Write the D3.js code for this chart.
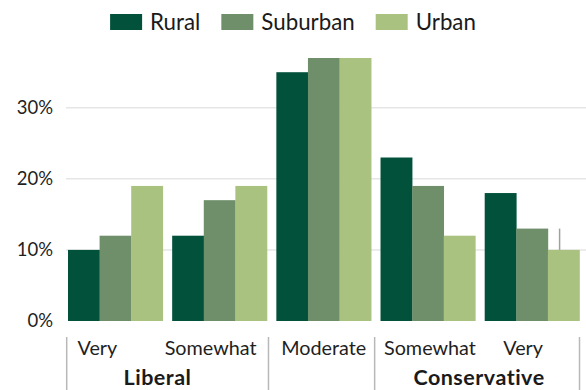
<!DOCTYPE html>
<html>
<head>
<meta charset="utf-8">
<script src="https://cdn.jsdelivr.net/npm/d3@7"></script>
<style>
  html, body { margin: 0; padding: 0; background: #fff; }
  svg { display: block; font-family: Lato, "Open Sans", sans-serif; }
</style>
</head>
<body>
<svg id="chart" width="586" height="390"></svg>
<script>
// ---- data ----
const categories = ["Very (Liberal)", "Somewhat (Liberal)", "Moderate", "Somewhat (Conservative)", "Very (Conservative)"];
const categoryLabels = ["Very", "Somewhat", "Moderate", "Somewhat", "Very"];
const seriesNames = ["Rural", "Suburban", "Urban"];
const rural    = [10, 12, 35, 23, 18];
const suburban = [12, 17, 37, 19, 13];
const urban    = [19, 19, 37, 12, 10];
const yTicks = [0, 10, 20, 30];
const yTickLabels = ["0%", "10%", "20%", "30%"];
const groups = [
  { name: "Liberal", from: 0, to: 1 },
  { name: "", from: 2, to: 2 },
  { name: "Conservative", from: 3, to: 4 }
];
const colors = ["#02513a", "#6f8f6a", "#a9c27f"];

const seriesValues = [rural, suburban, urban];
const rows = categories.map((c, i) => ({
  cat: c, values: seriesNames.map((s, j) => ({ series: s, value: seriesValues[j][i] }))
}));

const svg = d3.select("#chart");
const W = 586, H = 390;

const x = d3.scaleBand().domain(categories).range([68, 579.5]).paddingInner(0.09).paddingOuter(0);
const x1 = d3.scaleBand().domain(seriesNames).range([0, x.bandwidth()]).padding(0);
const y = d3.scaleLinear().domain([0, 37]).range([321, 58]);
const color = d3.scaleOrdinal().domain(seriesNames).range(colors);

// gridlines
svg.append("g").selectAll("line")
  .data(yTicks.filter(d => d > 0))
  .join("line")
  .attr("x1", 66).attr("x2", W)
  .attr("y1", d => y(d)).attr("y2", d => y(d))
  .attr("stroke", "#e6e6e6").attr("stroke-width", 1.5);

// y tick labels
svg.append("g").selectAll("text")
  .data(yTicks)
  .join("text")
  .attr("x", 53)
  .attr("y", d => y(d))
  .attr("dy", "0.35em")
  .attr("text-anchor", "end")
  .attr("font-size", 18.5)
  .attr("fill", "#1f1f1f")
  .text((d, i) => yTickLabels[i]);

// bars
const g = svg.append("g").selectAll("g")
  .data(rows).join("g")
  .attr("transform", d => `translate(${x(d.cat)},0)`);
g.selectAll("rect")
  .data(d => d.values)
  .join("rect")
  .attr("x", d => x1(d.series))
  .attr("width", x1.bandwidth() + 0.3)
  .attr("y", d => y(d.value))
  .attr("height", d => y(0) - y(d.value))
  .attr("fill", d => color(d.series));

// small grey marker on last group
{
  const cat = categories[4];
  const cx = x(cat) + x1("Urban") + x1.bandwidth() * 0.37;
  svg.append("line")
    .attr("x1", cx).attr("x2", cx)
    .attr("y1", y(suburban[4])).attr("y2", y(urban[4]))
    .attr("stroke", "#a0a0a0").attr("stroke-width", 1.5);
}

// category labels
const labelDx = [-18, -9, 0, 2, -9];
svg.append("g").selectAll("text")
  .data(categories)
  .join("text")
  .attr("x", (d, i) => x(d) + x.bandwidth() / 2 + labelDx[i])
  .attr("y", 355)
  .attr("text-anchor", "middle")
  .attr("font-size", 19.8)
  .attr("fill", "#1f1f1f")
  .text((d, i) => categoryLabels[i]);

// separators
const sepX = [x(categories[0]) - 1.3, x(categories[1]) + x.bandwidth() + 1.5, x(categories[2]) + x.bandwidth() + 3.5, x(categories[4]) + x.bandwidth()];
svg.append("g").selectAll("line")
  .data(sepX).join("line")
  .attr("x1", d => d).attr("x2", d => d)
  .attr("y1", 337).attr("y2", H)
  .attr("stroke", "#b8b8b8").attr("stroke-width", 1.5);

// group labels
const groupDx = { "Liberal": -10, "Conservative": -1 };
svg.append("g").selectAll("text")
  .data(groups.filter(d => d.name))
  .join("text")
  .attr("x", d => (x(categories[d.from]) + x(categories[d.to]) + x.bandwidth()) / 2 + (groupDx[d.name] || 0))
  .attr("y", 385)
  .attr("text-anchor", "middle")
  .attr("font-size", 21.5)
  .attr("letter-spacing", 0.5)
  .attr("font-weight", "bold")
  .attr("fill", "#1a1a1a")
  .text(d => d.name);

// legend
const legend = svg.append("g");
const items = legend.selectAll("g").data(seriesNames).join("g");
items.append("rect").attr("width", 32).attr("height", 16).attr("y", 14).attr("fill", d => color(d));
items.append("text").attr("x", 40).attr("y", 30).attr("font-size", 22.3).attr("fill", "#1a1a1a").text(d => d);
const widths = items.nodes().map(n => 40 + d3.select(n).select("text").node().getComputedTextLength());
const itemGap = 21;
const total = d3.sum(widths) + itemGap * (widths.length - 1);
let lx = (W - total) / 2;
items.attr("transform", (d, i) => {
  const tr = `translate(${lx},0)`;
  lx += widths[i] + itemGap;
  return tr;
});
</script>
</body>
</html>
